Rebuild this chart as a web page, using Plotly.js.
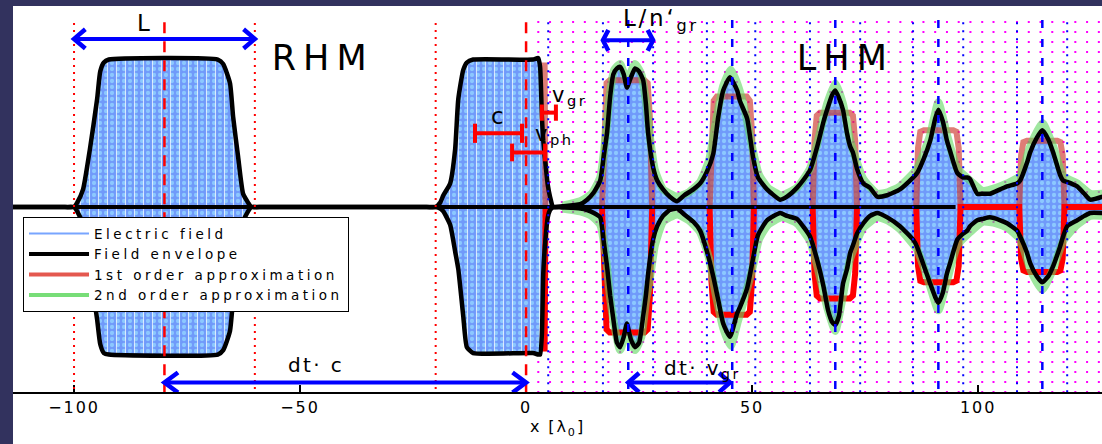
<!DOCTYPE html>
<html>
<head>
<meta charset="utf-8">
<script src="https://cdn.plot.ly/plotly-3.0.1.min.js"></script>
<style>
html, body { margin: 0; padding: 0; background: #ffffff; }
#plot { width: 1102px; height: 444px; }
svg text { letter-spacing: 0.12em; }
svg text.legendtext { letter-spacing: 0.26em; }
g.annotation[data-index="1"] text, g.annotation[data-index="2"] text { letter-spacing: 0.2em; }
</style>
</head>
<body>
<div id="plot"></div>
<script>
// Field envelope (upper / lower), position in units of lambda_0
const envX = [-113.5, -102, -100, -99.3, -98, -96.5, -94.9, -94.2, -93.4, -92.3, -68.2, -67, -65.5, -64.8, -63.7, -62.6, -61.5, -60.8,
  -59, -22, -20, -19, -18.3, -16.8, -15.7, -15.0, -13.9, -13.1, -11.7, 1.5, 2.7, 3.1, 3.5, 3.8, 4.2, 4.8, 5.3, 6.0,
  8, 12, 13.5, 15, 16.4, 17.2, 17.9, 18.6, 19.3, 20.1, 20.8, 21.6, 22.3, 23.2, 24.1, 25.0, 25.9, 26.5, 27.0, 28.1, 29.0, 30.3, 31.8, 33.4,
  35, 37, 38.5, 40, 41.4, 42.5, 43.6, 45.1, 46.7, 47.3, 48.9, 50.2, 51.3, 53.3, 56.2,
  57.7, 59.9, 61.5, 62.8, 64.4, 65.8, 66.8, 67.7, 68.4, 69.2, 70.1, 71.0, 71.7, 72.3, 73.2, 74.6, 76.1, 77.7,
  79.9, 82.7, 85.6, 86.5, 88.0, 89.4, 90.5, 91.2, 92.2, 93.1, 93.8, 95.4, 96.7, 97.6, 98.2, 99.8, 101.1, 102.6, 104.9, 106.4,
  108.6, 109.3, 110.8, 111.5, 113.0, 114.2, 115.5, 116.6, 118.1, 118.8, 119.7, 121.9, 123.5, 124.8, 127.5];
const envUp = [0, 0, 0, 0.03, 0.12, 0.39, 0.73, 0.92, 0.98, 1.0, 1.0, 0.97, 0.84, 0.61, 0.34, 0.09, 0.03, 0,
  0, 0, 0, 0.03, 0.08, 0.16, 0.39, 0.73, 0.93, 0.98, 1.0, 1.0, 1.01, 0.95, 0.61, 0.45, 0.32, 0.15, 0.07, 0,
  0.005, 0.02, 0.05, 0.1, 0.18, 0.35, 0.5, 0.75, 0.9, 0.94, 0.95, 0.9, 0.81, 0.88, 0.94, 0.92, 0.86, 0.7, 0.5, 0.27, 0.18, 0.12, 0.07, 0.04,
  0.08, 0.12, 0.16, 0.24, 0.36, 0.61, 0.79, 0.88, 0.79, 0.72, 0.6, 0.34, 0.2, 0.12, 0.05,
  0.07, 0.13, 0.19, 0.25, 0.41, 0.58, 0.68, 0.76, 0.79, 0.74, 0.66, 0.5, 0.41, 0.37, 0.26, 0.16, 0.13, 0.07,
  0.08, 0.12, 0.2, 0.23, 0.33, 0.45, 0.6, 0.66, 0.58, 0.45, 0.38, 0.23, 0.2, 0.2, 0.19, 0.09, 0.09, 0.09, 0.12, 0.14,
  0.16, 0.18, 0.3, 0.37, 0.47, 0.52, 0.46, 0.37, 0.22, 0.18, 0.17, 0.14, 0.09, 0.05, 0.07];
const envLow = [0, 0, 0, -0.03, -0.12, -0.42, -0.76, -0.93, -0.99, -1.0, -1.0, -0.97, -0.84, -0.62, -0.35, -0.1, -0.03, 0,
  0, 0, 0, -0.01, -0.03, -0.12, -0.3, -0.42, -0.74, -0.95, -0.99, -0.99, -1.0, -1.0, -0.86, -0.45, -0.25, -0.07, -0.02, 0,
  -0.003, -0.01, -0.02, -0.04, -0.07, -0.24, -0.4, -0.6, -0.76, -0.92, -0.95, -0.88, -0.79, -0.9, -0.95, -0.92, -0.74, -0.6, -0.45, -0.22, -0.13, -0.06, -0.02, -0.01,
  -0.05, -0.1, -0.16, -0.3, -0.47, -0.63, -0.79, -0.88, -0.72, -0.68, -0.55, -0.35, -0.19, -0.09, -0.04,
  -0.06, -0.08, -0.14, -0.2, -0.36, -0.54, -0.7, -0.78, -0.8, -0.74, -0.52, -0.42, -0.31, -0.26, -0.18, -0.11, -0.06, -0.04,
  -0.07, -0.13, -0.22, -0.27, -0.4, -0.52, -0.61, -0.65, -0.58, -0.45, -0.38, -0.22, -0.18, -0.16, -0.13, -0.09, -0.08, -0.07, -0.09, -0.11,
  -0.16, -0.2, -0.31, -0.38, -0.47, -0.51, -0.47, -0.4, -0.27, -0.2, -0.13, -0.09, -0.06, -0.04, -0.04];
const rhmCount = 38;   // the first points describe the two RHM pulses

// 1st order approximation (flat-top pulses); null separates the pieces
const redX = [4.1, 4.3, 10,
  16.8, 17.3, 17.8, 18.5, 26.2, 26.9, 27.4, 27.9, 35,
  40.6, 41.0, 41.5, 42.2, 48.8, 49.5, 50.0, 50.4, 57,
  63.4, 63.8, 64.3, 65.0, 71.6, 72.3, 72.8, 73.2, 80,
  86.3, 86.7, 87.2, 88.0, 94.5, 95.2, 95.7, 96.1,
  109.1, 109.5, 110.0, 110.8, 117.5, 118.2, 118.7, 119.1, 127.5];
const redUp = [0.98, 0, null,
  0, 0.6, 0.84, 0.86, 0.86, 0.84, 0.6, 0, null,
  0, 0.5, 0.72, 0.75, 0.75, 0.72, 0.5, 0, null,
  0, 0.45, 0.62, 0.64, 0.64, 0.62, 0.45, 0, null,
  0, 0.4, 0.51, 0.52, 0.52, 0.51, 0.4, 0,
  0, 0.35, 0.44, 0.45, 0.45, 0.44, 0.35, 0, 0];
const redLow = [-0.98, 0, null,
  0, -0.6, -0.83, -0.85, -0.85, -0.83, -0.6, 0, null,
  0, -0.5, -0.71, -0.73, -0.73, -0.71, -0.5, 0, null,
  0, -0.45, -0.6, -0.62, -0.62, -0.6, -0.45, 0, null,
  0, -0.4, -0.5, -0.51, -0.51, -0.5, -0.4, 0,
  0, -0.35, -0.43, -0.44, -0.44, -0.43, -0.35, 0, 0];

// 2nd order approximation
const greenX = [8, 12, 14.5, 16.4, 17.5, 18.6, 19.5, 20.8, 22.3, 24.1, 25.5, 26.5, 27.5, 28.5, 30.3, 33.4, 36, 38.5, 40.5, 42,
  43.6, 45.3, 46.8, 48.5, 50.2, 51.5, 53.5, 56.5, 59.9, 62.8, 64.4, 66.6, 68.4, 70.1, 71.7, 74.6, 77.7, 80, 82.7, 86.5,
  89.4, 91.2, 93.1, 95.4, 98.2, 101, 104, 106.4, 109.3, 111.5, 114.2, 116.6, 118.8, 121.9, 124.8, 127.5];
const greenUp = [0.01, 0.04, 0.09, 0.2, 0.45, 0.78, 0.93, 0.97, 0.86, 0.97, 0.9, 0.72, 0.45, 0.25, 0.12, 0.07, 0.1, 0.17, 0.32, 0.58,
  0.82, 0.93, 0.83, 0.64, 0.38, 0.22, 0.13, 0.08, 0.13, 0.26, 0.43, 0.7, 0.84, 0.7, 0.45, 0.19, 0.09, 0.1, 0.14, 0.26,
  0.49, 0.71, 0.49, 0.26, 0.18, 0.11, 0.13, 0.16, 0.21, 0.41, 0.57, 0.41, 0.21, 0.16, 0.09, 0.09];
const greenLow = [-0.01, -0.03, -0.06, -0.12, -0.3, -0.62, -0.8, -0.97, -0.85, -0.97, -0.88, -0.64, -0.46, -0.26, -0.1, -0.05, -0.09, -0.17, -0.35, -0.6,
  -0.82, -0.94, -0.78, -0.6, -0.4, -0.22, -0.12, -0.07, -0.11, -0.23, -0.4, -0.68, -0.84, -0.6, -0.35, -0.14, -0.07, -0.09, -0.15, -0.29,
  -0.54, -0.7, -0.5, -0.26, -0.17, -0.1, -0.11, -0.14, -0.22, -0.42, -0.56, -0.42, -0.23, -0.12, -0.06, -0.06];

// Reference lines
const rhmEdges = [-100, -60, -20];          // red dotted: pulse boundaries
const rhmCenters = [-80, 0];                // red dashed: pulse centres
const lhmCenters = [22.6, 45.6, 68.4, 91.2, 114.2];   // blue dashed
const lhmEdges = [4.9, 17, 28.1, 40, 50.7, 62.8, 73.9, 85.6, 96.7, 108.6, 119.7];  // blue dotted
const gridX = [2.7, 5.3, 7.9, 10.4, 13.0, 15.6, 18.2, 20.8, 23.4, 25.9, 28.5, 31.1, 33.7, 36.3, 38.9, 41.4, 44.0, 46.6, 49.2,
  51.8, 54.4, 56.9, 59.5, 62.1, 64.7, 67.3, 69.9, 72.4, 75.0, 77.6, 80.2, 82.8, 85.4, 87.9, 90.5, 93.1, 95.7, 98.3,
  100.9, 103.4, 106.0, 108.6, 111.2, 113.8, 116.4, 118.9, 121.5, 124.1, 126.7];

const tickVals = [-100, -50, 0, 50, 100];
const seriesNames = ['Electric field', 'Field envelope', '1st order approximation', '2nd order approximation'];

const FONT = 'DejaVu Sans, Liberation Sans, Arial, sans-serif';
const BLUE = '#0000ff';
const RED = '#ff0000';
const NAVY = '#32325e';

const spl = { shape: 'spline', smoothing: 0.5 };

const traces = [
  // electric field, drawn as the filled region between the envelopes
  { x: envX, y: envUp, mode: 'lines', line: Object.assign({ width: 0 }, spl), hoverinfo: 'skip', showlegend: false },
  { x: envX, y: envLow, mode: 'lines', line: Object.assign({ width: 0 }, spl), fill: 'tonexty',
    fillcolor: 'rgb(114,158,250)',
    fillpattern: { shape: '.', bgcolor: 'rgb(112,154,250)', fgcolor: 'rgb(140,200,255)', size: 6, solidity: 0.4 },
    hoverinfo: 'skip', showlegend: false },
  // fast carrier streaks inside the RHM pulses
  { x: envX.slice(0, rhmCount), y: envUp.slice(0, rhmCount), mode: 'lines', line: Object.assign({ width: 0 }, spl),
    hoverinfo: 'skip', showlegend: false },
  { x: envX.slice(0, rhmCount), y: envLow.slice(0, rhmCount), mode: 'lines', line: Object.assign({ width: 0 }, spl),
    fill: 'tonexty', fillcolor: 'rgba(0,0,0,0)',
    fillpattern: { shape: '|', bgcolor: 'rgba(0,0,0,0)', fgcolor: 'rgba(255,255,255,0.7)', size: 9, solidity: 0.12 },
    hoverinfo: 'skip', showlegend: false },
  // 1st order approximation
  { x: redX, y: redUp, mode: 'lines', line: { color: 'rgba(205,55,45,0.65)', width: 6 }, connectgaps: false, showlegend: false },
  { x: redX, y: redLow, mode: 'lines', line: { color: RED, width: 6 }, connectgaps: false, showlegend: false },
  // 2nd order approximation
  { x: greenX, y: greenUp, mode: 'lines', line: Object.assign({ color: 'rgba(95,215,95,0.6)', width: 8 }, spl), showlegend: false },
  { x: greenX, y: greenLow, mode: 'lines', line: Object.assign({ color: 'rgba(95,215,95,0.6)', width: 8 }, spl), showlegend: false },
  // field envelope
  { x: envX, y: envUp, mode: 'lines', line: Object.assign({ color: '#000', width: 4.5 }, spl), showlegend: false },
  { x: envX, y: envLow, mode: 'lines', line: Object.assign({ color: '#000', width: 4.5 }, spl), showlegend: false },
  // legend entries
  { x: [null], y: [null], mode: 'lines', name: seriesNames[0], line: { color: 'rgb(120,165,255)', width: 2 } },
  { x: [null], y: [null], mode: 'lines', name: seriesNames[1], line: { color: '#000', width: 4 } },
  { x: [null], y: [null], mode: 'lines', name: seriesNames[2], line: { color: 'rgba(225,70,60,0.9)', width: 4 } },
  { x: [null], y: [null], mode: 'lines', name: seriesNames[3], line: { color: 'rgba(95,215,95,0.85)', width: 4 } }
];

function vline(x, top, color, width, dash, layer) {
  return { type: 'line', xref: 'x', yref: 'paper', x0: x, x1: x, y0: top, y1: 0,
    line: { color: color, width: width, dash: dash }, layer: layer };
}
function seg(x0, y0, x1, y1, color, width) {
  return { type: 'line', xref: 'x', yref: 'y', x0: x0, x1: x1, y0: y0, y1: y1,
    line: { color: color, width: width }, layer: 'above' };
}
function bracket(x0, x1, y, h) {
  return [seg(x0, y, x1, y, RED, 4), seg(x0, y - h, x0, y + h, RED, 4), seg(x1, y - h, x1, y + h, RED, 4)];
}
// double-headed arrow: shaft plus an open chevron at each end
function dblArrow(x0, x1, y, hx, hy) {
  const head = (tipX, dir) => ({ type: 'path', xref: 'x', yref: 'y', layer: 'above',
    path: 'M' + (tipX + dir * hx) + ',' + (y + hy) + 'L' + tipX + ',' + y + 'L' + (tipX + dir * hx) + ',' + (y - hy),
    line: { color: BLUE, width: 4.5 } });
  return [seg(x0, y, x1, y, BLUE, 4), head(x0, 1), head(x1, -1)];
}

const shapes = [].concat(
  gridX.map(x => vline(x, 0.961, '#ff00ff', 2, '2px,8px', 'below')),
  [seg(-113.5, 0, 95, 0, '#000', 4)],
  lhmEdges.map(x => vline(x, 0.958, BLUE, 2, '2px,6px', 'above')),
  lhmCenters.map(x => vline(x, 0.964, BLUE, 2.5, '8px,11px', 'above')),
  rhmEdges.map(x => vline(x, 0.956, RED, 2, '2px,5px', 'above')),
  rhmCenters.map(x => vline(x, 0.958, RED, 2.5, '11px,8px', 'above')),
  bracket(-11.3, -0.9, 0.5, 0.065),
  bracket(3.5, 6.6, 0.64, 0.055),
  bracket(-3.1, 4.2, 0.37, 0.06),
  dblArrow(-100, -60, 1.14, 2.5, 0.065),
  dblArrow(17, 28.1, 1.13, 1.2, 0.07),
  dblArrow(-80, 0, -1.19, 3.0, 0.068),
  dblArrow(22.6, 45.1, -1.19, 2.4, 0.065),
  [
    // dark frame on the left and top
    { type: 'rect', xref: 'paper', yref: 'paper', x0: -0.0125, x1: 0, y0: -0.14, y1: 1.02,
      fillcolor: NAVY, line: { width: 0 }, layer: 'above' },
    { type: 'rect', xref: 'paper', yref: 'paper', x0: -0.0125, x1: 1.001, y0: 1, y1: 1.02,
      fillcolor: NAVY, line: { width: 0 }, layer: 'above' }
  ]
);

function label(x, y, text, size, xanchor) {
  return { x: x, y: y, xref: 'x', yref: 'y', text: text, showarrow: false,
    xanchor: xanchor || 'center', yanchor: 'middle', font: { family: FONT, size: size, color: '#000' } };
}

const annotations = [
  label(-84.3, 1.25, 'L', 23),
  label(-45, 1.01, 'RHM', 35),
  label(70.6, 1.01, 'LHM', 35),
  label(21.0, 1.27, 'L/n‘<sub>gr</sub>', 23, 'left'),
  label(-6.2, 0.62, 'c', 23),
  label(5.2, 0.75, 'v<sub>gr</sub>', 21, 'left'),
  label(1.6, 0.49, 'v<sub>ph</sub>', 21, 'left'),
  label(-46.5, -1.07, 'dt\u00b7 c', 20),
  label(30.0, -1.1, 'dt\u00b7 v<sub>gr</sub>', 20, 'left')
];

const layout = {
  width: 1102, height: 444, autosize: false,
  margin: { l: 13, r: 0, t: 6, b: 52 },
  paper_bgcolor: '#ffffff', plot_bgcolor: '#ffffff',
  font: { family: FONT, color: '#000', size: 16 },
  xaxis: {
    range: [-113.5, 127.4], tickvals: tickVals, ticks: 'inside', ticklen: 7, tickwidth: 1.5, tickcolor: '#000',
    showline: true, linecolor: '#000', linewidth: 2, showgrid: false, zeroline: false,
    tickfont: { family: FONT, size: 16, color: '#000' },
    title: { text: 'x [λ<sub>0</sub>]', font: { family: FONT, size: 16, color: '#000' }, standoff: 4 }
  },
  yaxis: { range: [-1.254, 1.363], visible: false },
  showlegend: true,
  legend: {
    x: 0.0092, y: 0.453, xanchor: 'left', yanchor: 'top', traceorder: 'normal',
    bgcolor: '#ffffff', bordercolor: '#000', borderwidth: 1,
    font: { family: FONT, size: 13.5, color: '#000' }, itemwidth: 60, tracegroupgap: 0
  },
  shapes: shapes,
  annotations: annotations
};

Plotly.newPlot('plot', traces, layout, { displayModeBar: false, staticPlot: true });
</script>
</body>
</html>
